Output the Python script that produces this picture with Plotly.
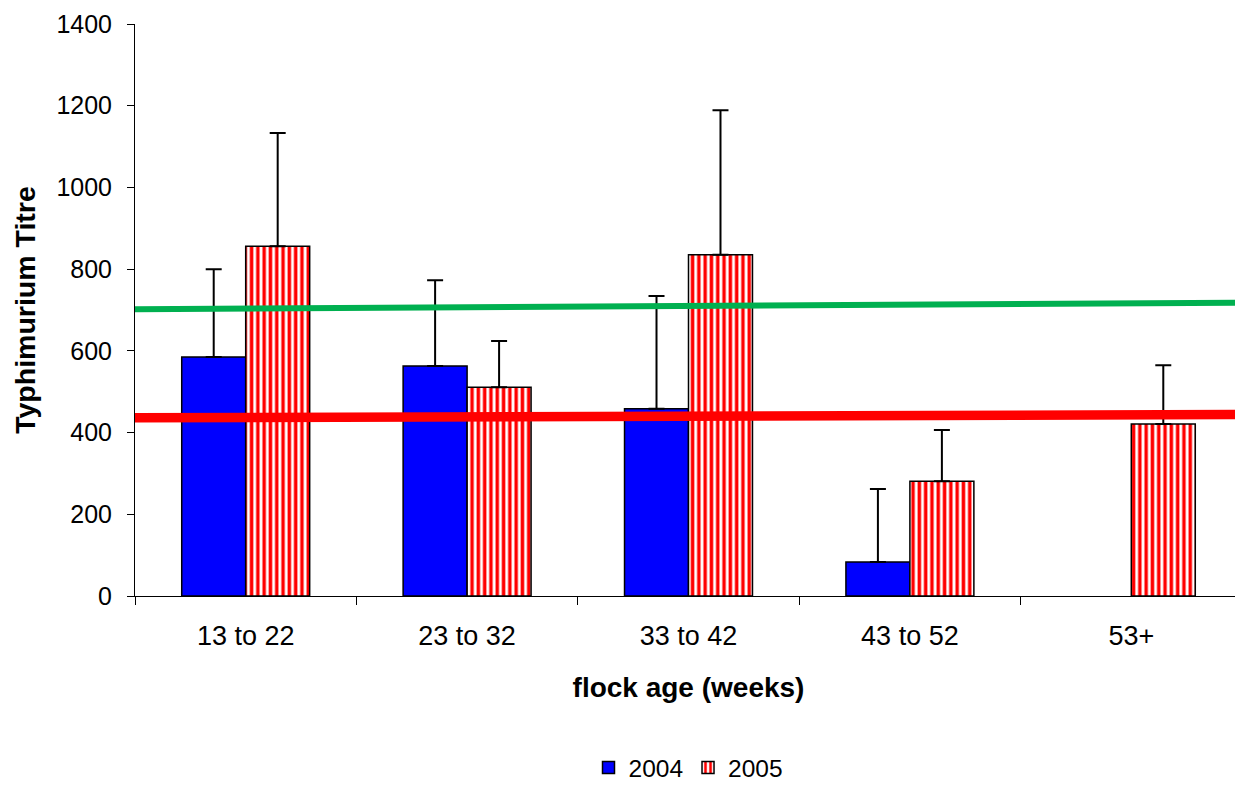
import plotly.graph_objects as go

categories = ["13 to 22", "23 to 32", "33 to 42", "43 to 52", "53+"]
titre_2004 = [585, 563, 458, 83, None]
err_2004 = [215, 210, 276, 179, None]
titre_2005 = [856, 511, 835, 281, 421]
err_2005 = [277, 113, 354, 125, 144]

trend_x = [0.0, 0.996]
trend_green = [702, 718]
trend_red = [436, 444]

FONT = "Liberation Sans, Arial, sans-serif"

fig = go.Figure()
fig.add_trace(go.Bar(
    name="2004", x=categories, y=titre_2004,
    marker=dict(color="#0000FF", line=dict(color="black", width=1.5)),
    error_y=dict(type="data", array=err_2004, arrayminus=[0] * 5, symmetric=False,
                 color="black", thickness=2, width=8),
))
fig.add_trace(go.Bar(
    name="2005", x=categories, y=titre_2005,
    marker=dict(color="white", line=dict(color="black", width=1.5),
                pattern=dict(shape="|", fgcolor="#FF0000", bgcolor="white",
                             size=6.3, solidity=0.55, fillmode="replace")),
    error_y=dict(type="data", array=err_2005, arrayminus=[0] * 5, symmetric=False,
                 color="black", thickness=2, width=8),
))
fig.add_trace(go.Scatter(
    x=trend_x, y=trend_green, mode="lines", xaxis="x2", showlegend=False,
    line=dict(color="rgb(0,176,80)", width=6), hoverinfo="skip",
))
fig.add_trace(go.Scatter(
    x=trend_x, y=trend_red, mode="lines", xaxis="x2", showlegend=False,
    line=dict(color="#FF0000", width=9.5), hoverinfo="skip",
))

# page body adds an 8px margin, so the figure is sized/offset to compensate
fig.update_layout(
    width=1235, height=777,
    margin=dict(l=127, r=1, t=16, b=189, autoexpand=False),
    paper_bgcolor="white", plot_bgcolor="white",
    font=dict(family=FONT, size=25, color="black"),
    barmode="group", bargap=0.422, bargroupgap=0,
    showlegend=True,
    legend=dict(orientation="h", x=0.5, xanchor="center", xref="paper",
                y=-0.30, yanchor="middle", font=dict(size=24.5),
                itemwidth=30, traceorder="normal"),
    xaxis=dict(
        type="category", range=[-0.5, 4.5], tickson="boundaries",
        showline=True, linecolor="black", linewidth=1,
        ticks="outside", ticklen=8, tickcolor="black", tickwidth=1,
        showgrid=False, zeroline=False, ticklabelstandoff=16,
        tickfont=dict(size=27), automargin=False,
        title=dict(text="<b>flock age (weeks)</b>", font=dict(size=28), standoff=26),
    ),
    xaxis2=dict(overlaying="x", range=[0, 1], visible=False, fixedrange=True),
    yaxis=dict(
        range=[0, 1400], dtick=200, tick0=0,
        showline=True, linecolor="black", linewidth=1,
        ticks="outside", ticklen=7, tickcolor="black", tickwidth=1,
        showgrid=False, zeroline=False, ticklabelstandoff=10,
        tickfont=dict(size=25), automargin=False,
        title=dict(text="<b>Typhimurium Titre</b>", font=dict(size=28.5), standoff=12),
    ),
)

fig.write_html("out.html")
